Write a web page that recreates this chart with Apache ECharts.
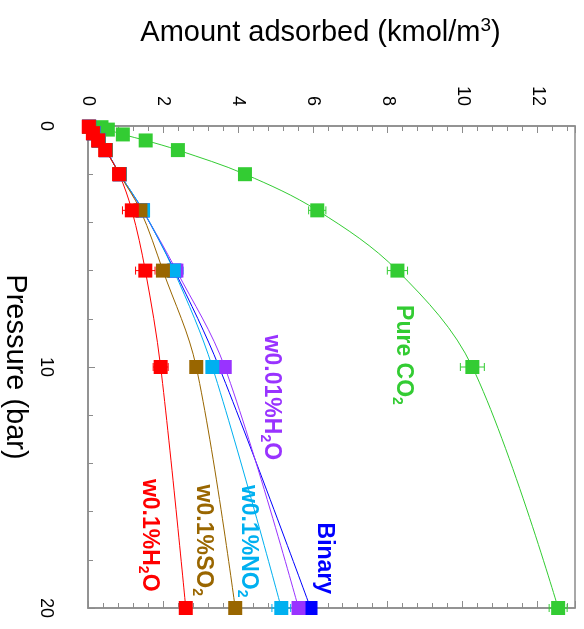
<!DOCTYPE html>
<html>
<head>
<meta charset="utf-8">
<script src="https://cdn.jsdelivr.net/npm/echarts@6/dist/echarts.min.js"></script>
<style>
  html, body { margin: 0; padding: 0; background: #fff; }
  #main { width: 584px; height: 629px; }
</style>
</head>
<body>
<div id="main"></div>
<script>
// Pressure (bar) at which each isotherm point was measured
const pressureCO2 = [0.05, 0.15, 0.35, 0.6, 1, 2, 3.5, 6, 10, 20];
const pressureMix = [0.03, 0.3, 0.6, 1, 2, 3.5, 6, 10, 20];

// Amount adsorbed (kmol/m3)
const pureCO2 = [0.36, 0.53, 0.93, 1.54, 2.4, 4.19, 6.12, 8.26, 10.26, 12.55];
const binary  = [0.03, 0.15, 0.29, 0.48, 0.85, 1.46, 2.31, 3.50, 5.94];
const h2oLow  = [0.03, 0.15, 0.29, 0.48, 0.85, 1.46, 2.36, 3.65, 5.62];
const no2     = [0.03, 0.15, 0.29, 0.48, 0.85, 1.47, 2.29, 3.32, 5.16];
const so2     = [0.03, 0.14, 0.28, 0.47, 0.84, 1.40, 2.00, 2.89, 3.93];
const h2oHigh = [0.02, 0.13, 0.27, 0.46, 0.83, 1.17, 1.53, 1.94, 2.61];

// Error bar half-widths (kmol/m3)
const errCO2  = [0, 0, 0, 0, 0, 0, 0.23, 0.27, 0.32, 0.24];
const errNO2  = [0, 0, 0, 0, 0, 0.10, 0.25, 0.10, 0.25];
const errHigh = [0, 0, 0, 0, 0, 0.25, 0.26, 0.20, 0.15];

// Axis ticks
const amountRange = [0, 13];
const amountStep = 2;
const pressureRange = [0, 20];
const pressureStep = 10;

const FONT = 'Liberation Sans, Arial, sans-serif';
const AXIS_GRAY = '#8c8c8c';

const seriesDefs = [
  { name: 'Pure CO2', color: '#33cc33', p: pressureCO2, v: pureCO2, err: errCO2 },
  { name: 'Binary', color: '#0000ff', p: pressureMix, v: binary },
  { name: 'w0.01%H2O', color: '#9933ff', p: pressureMix, v: h2oLow },
  { name: 'w0.1%NO2', color: '#00b0f0', p: pressureMix, v: no2, err: errNO2 },
  { name: 'w0.1%SO2', color: '#996600', p: pressureMix, v: so2 },
  { name: 'w0.1%H2O', color: '#ff0000', p: pressureMix, v: h2oHigh, err: errHigh }
];

// Curve labels: text, colour and anchor in data units [amount, pressure]
const curveLabels = [
  { main: 'Pure CO', sub: '2', tail: '', color: '#33cc33', at: [8.42, 9.5] },
  { main: 'w0.01%H', sub: '2', tail: 'O', color: '#9933ff', at: [4.9, 11.26] },
  { main: 'Binary', sub: '', tail: '', color: '#0000ff', at: [6.31, 17.94] },
  { main: 'w0.1%NO', sub: '2', tail: '', color: '#00b0f0', at: [4.29, 17.23] },
  { main: 'w0.1%SO', sub: '2', tail: '', color: '#996600', at: [3.09, 17.19] },
  { main: 'w0.1%H', sub: '2', tail: 'O', color: '#ff0000', at: [1.65, 16.98] }
];

function points(def) {
  return def.v.map((a, i) => [a, def.p[i]]);
}

function errorSeries(def) {
  const data = def.err.map((e, i) => [def.v[i], def.p[i], e]).filter(d => d[2] > 0);
  return {
    type: 'custom',
    silent: true,
    clip: false,
    z: 1,
    data: data,
    renderItem: function (params, api) {
      const a = api.value(0), p = api.value(1), e = api.value(2);
      const lo = api.coord([a - e, p]);
      const hi = api.coord([a + e, p]);
      const cap = 4;
      const style = { stroke: def.color, lineWidth: 1 };
      return {
        type: 'group',
        children: [
          { type: 'line', shape: { x1: lo[0], y1: lo[1], x2: hi[0], y2: hi[1] }, style: style },
          { type: 'line', shape: { x1: lo[0], y1: lo[1] - cap, x2: lo[0], y2: lo[1] + cap }, style: style },
          { type: 'line', shape: { x1: hi[0], y1: hi[1] - cap, x2: hi[0], y2: hi[1] + cap }, style: style }
        ]
      };
    }
  };
}

const series = [];
seriesDefs.forEach(def => {
  if (def.err) series.push(errorSeries(def));
  series.push({
    name: def.name,
    type: 'line',
    data: points(def),
    smooth: 0.35,
    clip: false,
    symbol: 'rect',
    symbolSize: 14,
    lineStyle: { color: def.color, width: 1 },
    itemStyle: { color: def.color, borderWidth: 0 },
    z: 2
  });
});

const tickCommon = {
  axisLine: { show: true, lineStyle: { color: AXIS_GRAY, width: 1.5 } },
  axisTick: { show: true, inside: true, length: 7, lineStyle: { color: AXIS_GRAY, width: 1 } },
  minorTick: { show: true, splitNumber: 5, length: 5, lineStyle: { color: AXIS_GRAY, width: 1 } },
  splitLine: { show: false },
  minorSplitLine: { show: false }
};

const chart = echarts.init(document.getElementById('main'), null, { renderer: 'canvas' });

chart.setOption({
  animation: false,
  backgroundColor: '#ffffff',
  grid: {
    left: 88, top: 126, right: 9, bottom: 21,
    containLabel: false,
    outerBoundsMode: 'none',
    show: true, borderColor: AXIS_GRAY, borderWidth: 1.5
  },
  xAxis: [
    Object.assign({
      type: 'value',
      position: 'top',
      min: amountRange[0],
      max: amountRange[1],
      interval: amountStep,
      axisLabel: { rotate: -90, margin: 20, fontSize: 18, color: '#000', fontFamily: FONT, showMaxLabel: false },
      name: '{t|Amount adsorbed (kmol/m}{s|3}{t|)}',
      nameLocation: 'middle',
      nameGap: 76,
      nameTextStyle: {
        padding: [0, 22, 0, 0],
        rich: {
          t: { fontSize: 29, fontFamily: FONT, color: '#000', lineHeight: 34 },
          s: { fontSize: 19, fontFamily: FONT, color: '#000', verticalAlign: 'top', lineHeight: 34 }
        }
      }
    }, tickCommon),
    Object.assign({
      type: 'value',
      position: 'bottom',
      min: amountRange[0],
      max: amountRange[1],
      interval: amountStep,
      axisLabel: { show: false }
    }, tickCommon)
  ],
  yAxis: Object.assign({
    type: 'value',
    inverse: true,
    min: pressureRange[0],
    max: pressureRange[1],
    interval: pressureStep,
    axisLabel: { rotate: -90, margin: 33, fontSize: 18, color: '#000', fontFamily: FONT },
    name: 'Pressure (bar)',
    nameLocation: 'middle',
    nameRotate: -90,
    nameGap: 52,
    nameTextStyle: { fontSize: 29, fontFamily: FONT, color: '#000' }
  }, tickCommon),
  series: series
});

// Place the rotated curve labels at their data positions
const graphics = curveLabels.map(l => {
  const pos = chart.convertToPixel({ gridIndex: 0 }, l.at);
  let text = '{m|' + l.main + '}';
  if (l.sub) text += '{s|' + l.sub + '}';
  if (l.tail) text += '{m|' + l.tail + '}';
  return {
    type: 'text',
    x: pos[0],
    y: pos[1],
    rotation: -Math.PI / 2,
    z: 10,
    style: {
      text: text,
      align: 'center',
      verticalAlign: 'middle',
      rich: {
        m: { fontSize: 23, fontWeight: 'bold', fontFamily: FONT, fill: l.color, color: l.color, lineHeight: 28, verticalAlign: 'middle' },
        s: { fontSize: 14, fontWeight: 'bold', fontFamily: FONT, fill: l.color, color: l.color, lineHeight: 28, verticalAlign: 'bottom' }
      }
    }
  };
});
chart.setOption({ graphic: graphics });
</script>
</body>
</html>
